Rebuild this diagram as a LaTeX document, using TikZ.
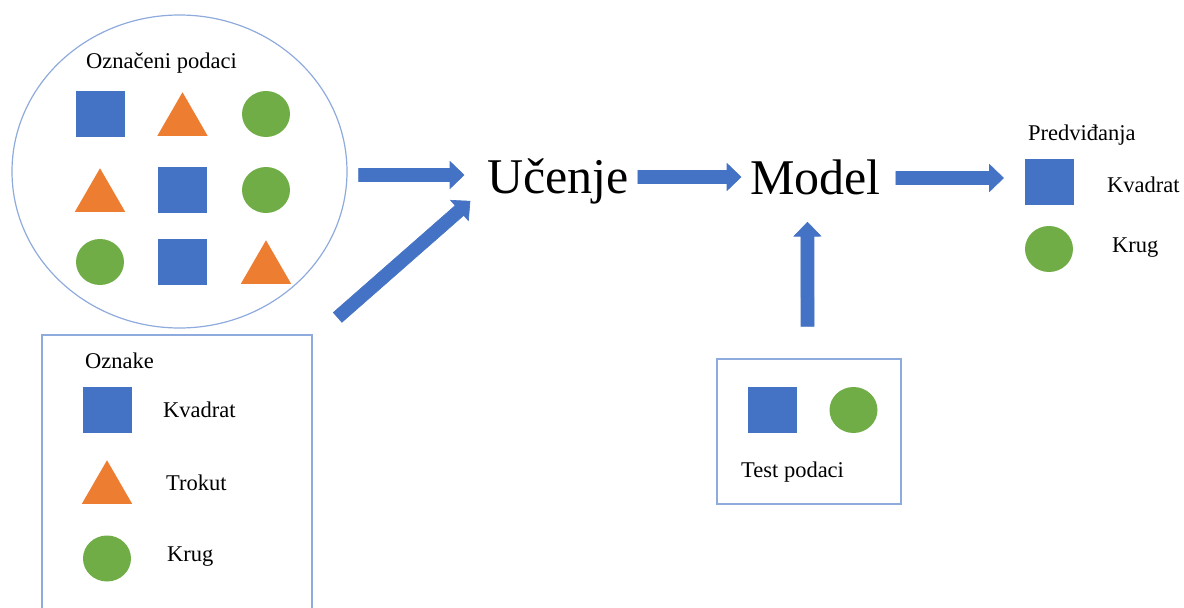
\documentclass[tikz,border=0pt]{standalone}
\usepackage{fontspec}
\setmainfont{Liberation Serif}
\usetikzlibrary{shapes.geometric,calc}
\definecolor{cblue}{HTML}{4472C4}
\definecolor{corange}{HTML}{ED7D31}
\definecolor{cgreen}{HTML}{70AD47}
\definecolor{cline}{HTML}{8FAADC}
\begin{document}
\begin{tikzpicture}[x=1pt,y=-1pt,
 sq/.style={rectangle, fill=cblue, minimum width=49pt, minimum height=46pt, inner sep=0pt, outer sep=0pt},
 tri/.style={regular polygon, regular polygon sides=3, fill=corange, minimum size=58pt, inner sep=0pt, outer sep=0pt},
 circ/.style={ellipse, fill=cgreen, minimum width=48pt, minimum height=46pt, inner sep=0pt, outer sep=0pt},
 lbl/.style={font=\fontsize{22.5}{27}\selectfont, inner sep=0pt, anchor=base west},
 big/.style={font=\fontsize{50}{60}\selectfont, inner sep=0pt, anchor=west, text height=36pt, text depth=0pt},
 boxline/.style={draw=cline, line width=1.2pt, inner sep=0pt},
 blk/.style={draw=cblue, fill=cblue, line width=0.6pt, line join=miter,
   to path={let \p1=(\tikztostart), \p2=(\tikztotarget), \n1={atan2(\y2-\y1,\x2-\x1)} in
     ($(\p1)+(\n1+90:6.5pt)$)
     -- ($(\p2)+(\n1+180:14pt)+(\n1+90:6.5pt)$)
     -- ($(\p2)+(\n1+180:14pt)+(\n1+90:13.5pt)$)
     -- (\p2)
     -- ($(\p2)+(\n1+180:14pt)+(\n1-90:13.5pt)$)
     -- ($(\p2)+(\n1+180:14pt)+(\n1-90:6.5pt)$)
     -- ($(\p1)+(\n1-90:6.5pt)$) -- cycle}}
]
\useasboundingbox (0,0) rectangle (1184,608);

% labelled data
\node[ellipse, boxline, minimum width=335pt, minimum height=313pt] (ell) at (179.5,171.5) {};
\node[lbl] (tOzn) at (86,68) {Označeni podaci};
\node[sq]   (g11) at (100,114) {};
\node[tri]  (g12) at (182.5,121.25) {};
\node[circ] (g13) at (266,114) {};
\node[tri]  (g21) at (100,197.25) {};
\node[sq]   (g22) at (182.5,190) {};
\node[circ] (g23) at (266,190) {};
\node[circ] (g31) at (100,262) {};
\node[sq]   (g32) at (182.5,262) {};
\node[tri]  (g33) at (266,269.25) {};

% labels box
\node[rectangle, boxline, minimum width=270pt, minimum height=285pt] (leg) at (177,477.5) {};
\node[lbl] (tOznake) at (85,368) {Oznake};
\node[sq]   (lsq) at (107,410) {};
\node[lbl]  (tlsq) at (163,417) {Kvadrat};
\node[tri]  (ltri) at (107,489.25) {};
\node[lbl]  (tltri) at (166,490) {Trokut};
\node[circ] (lcirc) at (107,558.5) {};
\node[lbl]  (tlcirc) at (167,561) {Krug};

% learning and model
\node[big] (ucenje) at (487,175) {Učenje};
\node[big] (model) at (750,176) {Model};

% predictions
\node[lbl]  (tpred) at (1028,140) {Predviđanja};
\node[sq]   (psq) at (1049,182) {};
\node[lbl]  (tpsq) at (1107,192) {Kvadrat};
\node[circ] (pcirc) at (1049,249) {};
\node[lbl]  (tpcirc) at (1112,252) {Krug};

% test data
\node[rectangle, boxline, minimum width=184pt, minimum height=145pt] (test) at (809,431.5) {};
\node[sq]   (tsq) at (772.5,410) {};
\node[circ] (tcirc) at (853.5,410) {};
\node[lbl]  (ttest) at (741,477) {Test podaci};

% arrows
\draw[blk] ($(ell.east)+(11,3.5)$) to ($(ucenje.west)+(-23,0)$);
\draw[blk] ($(leg.north east)+(25,-17)$) to ($(ucenje.south west)+(-17,8)$);
\draw[blk] ($(ucenje.east)+(9,2)$) to ($(model.west)+(-9,1)$);
\draw[blk] ($(model.east)+(15,2)$) to ($(psq.west)+(-21,-4)$);
\draw[blk] ($(test.north)+(-1.5,-32)$) to ($(model.south)+(-8,28)$);
\end{tikzpicture}
\end{document}
